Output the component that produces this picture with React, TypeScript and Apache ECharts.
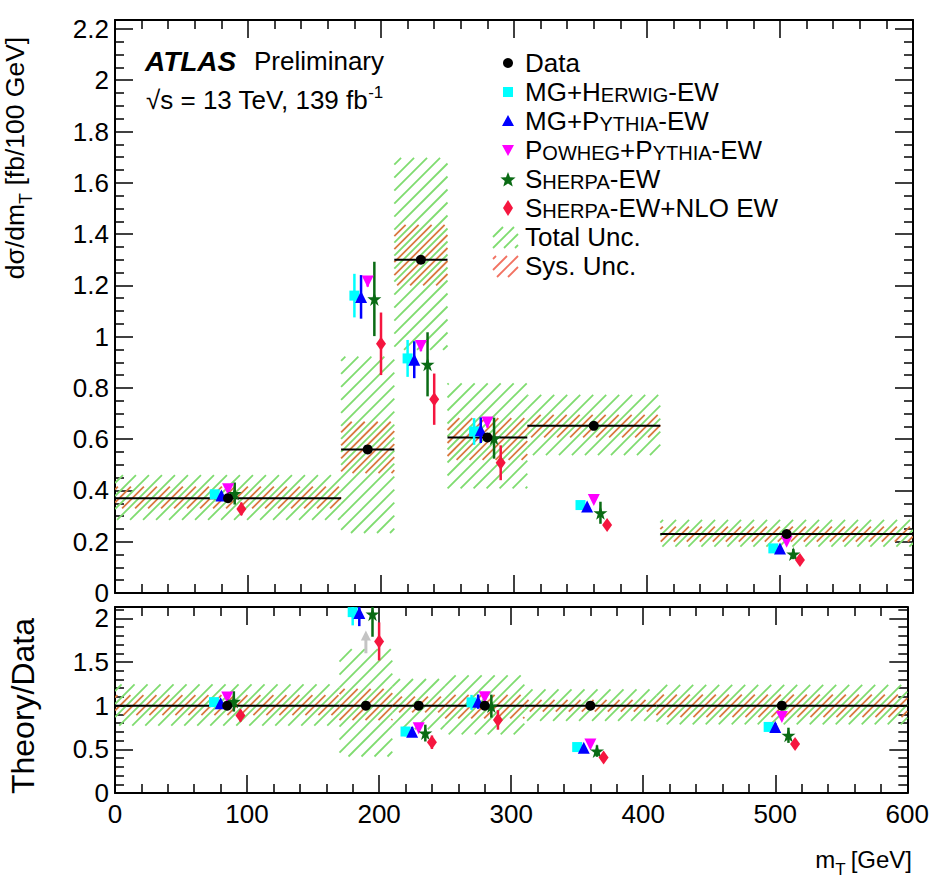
import React, { useEffect, useRef } from "react";
import * as echarts from "echarts";

// ---------------- Data ----------------
const binEdges = [0, 170, 210, 250, 310, 410, 600];
const binCenters = [85, 190, 230, 280, 360, 505];
const dataValues = [0.37, 0.56, 1.3, 0.607, 0.652, 0.23];
const totalUncLow = [0.285, 0.234, 0.948, 0.408, 0.538, 0.181];
const totalUncHigh = [0.46, 0.922, 1.697, 0.818, 0.773, 0.285];
const sysUncLow = [0.33, 0.468, 1.2, 0.519, 0.607, 0.2];
const sysUncHigh = [0.415, 0.668, 1.436, 0.682, 0.695, 0.259];

const mgHerwigValues = [0.385, 1.16, 0.915, 0.63, 0.343, 0.174];
const mgHerwigErrors = [0.015, 0.085, 0.072, 0.052, 0.012, 0.01];
const mgPythiaValues = [0.38, 1.155, 0.91, 0.635, 0.337, 0.174];
const mgPythiaErrors = [0.015, 0.085, 0.072, 0.05, 0.012, 0.01];
const powhegValues = [0.405, 1.215, 0.963, 0.665, 0.363, 0.2];
const powhegErrors = [0.012, 0.02, 0.02, 0.02, 0.01, 0.008];
const sherpaValues = [0.388, 1.147, 0.892, 0.604, 0.313, 0.152];
const sherpaErrors = [0.043, 0.145, 0.125, 0.08, 0.043, 0.02];
const sherpaNloValues = [0.328, 0.972, 0.756, 0.508, 0.265, 0.129];
const sherpaNloErrors = [0.025, 0.122, 0.1, 0.068, 0.015, 0.012];

const xTickValues = [0, 100, 200, 300, 400, 500, 600];
const yTickValuesTop = [0, 0.2, 0.4, 0.6, 0.8, 1, 1.2, 1.4, 1.6, 1.8, 2, 2.2];
const yTickValuesRatio = [0, 0.5, 1, 1.5, 2];

// ---------------- Styling / layout ----------------
const FONT = "'Liberation Sans', Arial, Helvetica, sans-serif";
const TOP_MAX = 2.235;
const RATIO_MAX = 2.13;
const GREEN = "#7fdc70";
const ORANGE = "#d9783e";
const LEG_RED = "#f27262";
const HATCH_SPACING = 13;
const STAR_PATH =
  "path://M50,0 L61.8,35.1 98.1,35.1 68.8,56.7 79.4,90.9 50,69.1 20.6,90.9 31.2,56.7 1.9,35.1 38.2,35.1 Z";

const models = [
  { name: "MG+Herwig-EW", values: mgHerwigValues, errors: mgHerwigErrors, shift: -10, color: "#00ffff", symbol: "rect", size: 10, rotate: 0 },
  { name: "MG+Pythia-EW", values: mgPythiaValues, errors: mgPythiaErrors, shift: -5, color: "#0000ff", symbol: "triangle", size: 12, rotate: 0 },
  { name: "Powheg+Pythia-EW", values: powhegValues, errors: powhegErrors, shift: 0, color: "#ff00ff", symbol: "triangle", size: 12, rotate: 180 },
  { name: "Sherpa-EW", values: sherpaValues, errors: sherpaErrors, shift: 5, color: "#0a6b14", symbol: STAR_PATH, size: 14, rotate: 0 },
  { name: "Sherpa-EW+NLO EW", values: sherpaNloValues, errors: sherpaNloErrors, shift: 10, color: "#f5163f", symbol: "diamond", size: [10, 14], rotate: 0 },
];

function stepValues(start: number, end: number, step: number, skip: number[]) {
  const out: number[] = [];
  for (let k = 0; start + k * step <= end + 1e-9; k++) {
    const v = +(start + k * step).toFixed(4);
    if (!skip.some((s) => Math.abs(s - v) < 1e-6)) out.push(v);
  }
  return out;
}
const xMinor = stepValues(0, 600, 20, xTickValues);
const yMinorTop = stepValues(0, 2.2, 0.05, yTickValuesTop);
const yMinorRatio = stepValues(0, 2.1, 0.1, yTickValuesRatio);

function hatchLines(xa: number, ya: number, xb: number, yb: number, spacing: number, phase: number) {
  const x0 = Math.min(xa, xb), x1 = Math.max(xa, xb);
  const y0 = Math.min(ya, yb), y1 = Math.max(ya, yb);
  const segs: number[][] = [];
  const cStart = Math.ceil((x0 + y0 - phase) / spacing) * spacing + phase;
  for (let c = cStart; c <= x1 + y1; c += spacing) {
    const sx = Math.max(x0, c - y1);
    const ex = Math.min(x1, c - y0);
    if (ex > sx + 0.5) segs.push([sx, c - sx, ex, c - ex]);
  }
  return segs;
}

function axis(dim: "x" | "y", gridIndex: number, position: string, min: number, max: number, values: number[], len: number, showLine: boolean, showLabels: boolean) {
  return {
    type: "value",
    gridIndex,
    position,
    min,
    max,
    axisLine: { show: showLine, onZero: false, lineStyle: { color: "#000", width: 2 } },
    axisTick: { show: true, inside: true, length: len, customValues: values, lineStyle: { color: "#000", width: 1.5 } },
    minorTick: { show: false },
    splitLine: { show: false },
    axisLabel: showLabels
      ? { show: true, customValues: values, fontSize: 26, fontFamily: FONT, color: "#000", margin: dim === "x" ? 8 : 6 }
      : { show: false },
  };
}

function xAxes(g: number, labels: boolean) {
  return [
    axis("x", g, "bottom", 0, 600, xTickValues, 18, true, labels),
    axis("x", g, "bottom", 0, 600, xMinor, 9, false, false),
    axis("x", g, "top", 0, 600, xTickValues, 18, true, false),
    axis("x", g, "top", 0, 600, xMinor, 9, false, false),
  ];
}
function yAxes(g: number, max: number, majors: number[], minors: number[]) {
  return [
    axis("y", g, "left", 0, max, majors, 18, true, true),
    axis("y", g, "left", 0, max, minors, 9, false, false),
    axis("y", g, "right", 0, max, majors, 18, true, false),
    axis("y", g, "right", 0, max, minors, 9, false, false),
  ];
}

function panelSeries(panel: number) {
  const idx = panel * 4;
  const ratio = panel === 1;
  const norm = (v: number, i: number) => (ratio ? v / dataValues[i] : v);
  const ymax = ratio ? RATIO_MAX : TOP_MAX;
  const series: any[] = [];

  const band = (low: number[], high: number[], color: string, phase: number) => ({
    type: "custom",
    coordinateSystem: "cartesian2d",
    xAxisIndex: idx,
    yAxisIndex: idx,
    silent: true,
    clip: true,
    encode: { x: [0, 1], y: [2, 3] },
    data: low.map((lo, i) => [binEdges[i], binEdges[i + 1], norm(lo, i), norm(high[i], i)]),
    renderItem: (params: any, api: any) => {
      const p0 = api.coord([api.value(0), api.value(3)]);
      const p1 = api.coord([api.value(1), api.value(2)]);
      const segs = hatchLines(p0[0], p0[1], p1[0], p1[1], HATCH_SPACING, phase);
      return {
        type: "group",
        children: segs.map((s) => ({
          type: "line",
          shape: { x1: s[0], y1: s[1], x2: s[2], y2: s[3] },
          style: { stroke: color, lineWidth: 1.8 },
        })),
      };
    },
  });
  series.push(band(totalUncLow, totalUncHigh, GREEN, 0));
  series.push(band(sysUncLow, sysUncHigh, ORANGE, HATCH_SPACING / 2));

  // Data line across each bin width
  series.push({
    type: "custom",
    coordinateSystem: "cartesian2d",
    xAxisIndex: idx,
    yAxisIndex: idx,
    silent: true,
    encode: { x: [0, 1], y: 2 },
    data: dataValues.map((v, i) => [binEdges[i], binEdges[i + 1], norm(v, i)]),
    renderItem: (params: any, api: any) => {
      const a = api.coord([api.value(0), api.value(2)]);
      const b = api.coord([api.value(1), api.value(2)]);
      return { type: "line", shape: { x1: a[0], y1: a[1], x2: b[0], y2: b[1] }, style: { stroke: "#000", lineWidth: 2 } };
    },
  });

  models.forEach((m) => {
    series.push({
      type: "custom",
      coordinateSystem: "cartesian2d",
      xAxisIndex: idx,
      yAxisIndex: idx,
      silent: true,
      clip: true,
      encode: { x: 0, y: [1, 2] },
      data: m.values.map((v, i) => [binCenters[i] + m.shift, norm(v - m.errors[i], i), norm(v + m.errors[i], i)]),
      renderItem: (params: any, api: any) => {
        const a = api.coord([api.value(0), api.value(1)]);
        const b = api.coord([api.value(0), api.value(2)]);
        return { type: "line", shape: { x1: a[0], y1: a[1], x2: b[0], y2: b[1] }, style: { stroke: m.color, lineWidth: 2.5 } };
      },
    });
    series.push({
      type: "scatter",
      xAxisIndex: idx,
      yAxisIndex: idx,
      silent: true,
      clip: true,
      symbol: m.symbol,
      symbolSize: m.size,
      symbolRotate: m.rotate,
      itemStyle: { color: m.color, opacity: 1 },
      data: m.values.map((v, i) => [binCenters[i] + m.shift, norm(v, i)]),
    });
    if (ratio) {
      // out-of-range indicators
      const over = m.values
        .map((v, i) => [binCenters[i] + m.shift, norm(v, i)])
        .filter((p) => p[1] > ymax)
        .map((p) => [p[0], 1.6, 1.86]);
      if (over.length) {
        series.push({
          type: "custom",
          coordinateSystem: "cartesian2d",
          xAxisIndex: idx,
          yAxisIndex: idx,
          silent: true,
          encode: { x: 0, y: [1, 2] },
          data: over,
          renderItem: (params: any, api: any) => {
            const a = api.coord([api.value(0), api.value(1)]);
            const b = api.coord([api.value(0), api.value(2)]);
            return {
              type: "group",
              children: [
                { type: "line", shape: { x1: a[0], y1: a[1], x2: b[0], y2: b[1] + 8 }, style: { stroke: "#c4c4c4", lineWidth: 3 } },
                { type: "polygon", shape: { points: [[b[0] - 5, b[1] + 10], [b[0] + 5, b[1] + 10], [b[0], b[1]]] }, style: { fill: "#c4c4c4" } },
              ],
            };
          },
        });
      }
    }
  });

  series.push({
    type: "scatter",
    xAxisIndex: idx,
    yAxisIndex: idx,
    silent: true,
    symbol: "circle",
    symbolSize: 10,
    itemStyle: { color: "#000", opacity: 1 },
    data: dataValues.map((v, i) => [binCenters[i], norm(v, i)]),
  });
  return series;
}

function starPoints(cx: number, cy: number, R: number, r: number) {
  const pts: number[][] = [];
  for (let k = 0; k < 10; k++) {
    const ang = -Math.PI / 2 + (k * Math.PI) / 5;
    const rad = k % 2 === 0 ? R : r;
    pts.push([cx + rad * Math.cos(ang), cy + rad * Math.sin(ang)]);
  }
  return pts;
}

function buildGraphics() {
  const g: any[] = [];
  const txt = (x: number, y: number, text: string, extra: any = {}, rot = 0) => ({
    type: "text",
    x,
    y,
    rotation: rot,
    silent: true,
    style: {
      text,
      fill: "#000",
      fontSize: 26,
      fontFamily: FONT,
      align: "left",
      textAlign: "left",
      verticalAlign: "middle",
      textVerticalAlign: "middle",
      ...extra,
    },
  });
  const rich = (n = 26, s = 20) => ({
    n: { fontSize: n, fontFamily: FONT, fill: "#000", color: "#000", verticalAlign: "bottom", lineHeight: n },
    s: { fontSize: s, fontFamily: FONT, fill: "#000", color: "#000", verticalAlign: "bottom", lineHeight: s },
  });

  // ATLAS label
  g.push(txt(145, 61, "ATLAS", { fontWeight: "bold", fontStyle: "italic", fontSize: 28 }));
  g.push(txt(254, 61, "Preliminary"));
  g.push(
    txt(146, 100, "{n|\u221As = 13 TeV, 139 fb}{u|-1}", {
      rich: {
        n: { fontSize: 26, fontFamily: FONT, fill: "#000", color: "#000", verticalAlign: "bottom", lineHeight: 26 },
        u: { fontSize: 17, fontFamily: FONT, fill: "#000", color: "#000", verticalAlign: "bottom", lineHeight: 17, padding: [0, 0, 12, 0] },
      },
    })
  );

  // Legend
  const LX = 508;
  const TX = 525;
  const y0 = 63;
  const dy = 29;
  const labels = [
    "Data",
    "{n|MG+H}{s|ERWIG}{n|-EW}",
    "{n|MG+P}{s|YTHIA}{n|-EW}",
    "{n|P}{s|OWHEG}{n|+P}{s|YTHIA}{n|-EW}",
    "{n|S}{s|HERPA}{n|-EW}",
    "{n|S}{s|HERPA}{n|-EW+NLO EW}",
    "Total Unc.",
    "Sys. Unc.",
  ];
  labels.forEach((t, i) => {
    g.push(txt(TX, y0 + i * dy, t, { rich: rich() }));
  });
  const ly = (i: number) => y0 + i * dy;
  g.push({ type: "circle", silent: true, shape: { cx: LX, cy: ly(0), r: 5 }, style: { fill: "#000" } });
  g.push({ type: "rect", silent: true, shape: { x: LX - 5, y: ly(1) - 5, width: 10, height: 10 }, style: { fill: models[0].color } });
  g.push({ type: "polygon", silent: true, shape: { points: [[LX - 6, ly(2) + 5], [LX + 6, ly(2) + 5], [LX, ly(2) - 6]] }, style: { fill: models[1].color } });
  g.push({ type: "polygon", silent: true, shape: { points: [[LX - 6, ly(3) - 5], [LX + 6, ly(3) - 5], [LX, ly(3) + 6]] }, style: { fill: models[2].color } });
  g.push({ type: "polygon", silent: true, shape: { points: starPoints(LX, ly(4) + 1, 8, 3.4) }, style: { fill: models[3].color } });
  g.push({ type: "polygon", silent: true, shape: { points: [[LX, ly(5) - 8], [LX + 5, ly(5)], [LX, ly(5) + 8], [LX - 5, ly(5)]] }, style: { fill: models[4].color } });
  const legendHatch = (i: number, color: string) => {
    hatchLines(493, ly(i) - 10, 518, ly(i) + 11, 11, 4).forEach((s) =>
      g.push({ type: "line", silent: true, shape: { x1: s[0], y1: s[1], x2: s[2], y2: s[3] }, style: { stroke: color, lineWidth: 1.8 } })
    );
  };
  legendHatch(6, GREEN);
  legendHatch(7, LEG_RED);

  // Axis titles
  const subRich = (n: number, t: number) => ({
    n: { fontSize: n, fontFamily: FONT, fill: "#000", color: "#000", verticalAlign: "bottom", lineHeight: n, padding: [0, 0, 7, 0] },
    t: { fontSize: t, fontFamily: FONT, fill: "#000", color: "#000", verticalAlign: "bottom", lineHeight: t },
    g: { fontSize: n, fontFamily: FONT, fill: "#000", color: "#000", verticalAlign: "bottom", lineHeight: n, padding: [0, 0, 7, 5] },
  });
  g.push(txt(22, 158, "{n|d\u03C3/dm}{t|T}{n| [fb/100 GeV]}", { rich: subRich(26.5, 18), align: "center", textAlign: "center" }, Math.PI / 2));
  g.push(txt(23, 706, "Theory/Data", { fontSize: 32, align: "center", textAlign: "center" }, Math.PI / 2));
  g.push(txt(912, 866, "{n|m}{t|T}{g|[GeV]}", { rich: subRich(24, 17), align: "right", textAlign: "right" }));
  return g;
}

export default function App() {
  const ref = useRef<HTMLDivElement>(null);
  useEffect(() => {
    if (!ref.current) return;
    const chart = echarts.init(ref.current, undefined, { renderer: "svg" });
    chart.setOption({
      animation: false,
      backgroundColor: "#fff",
      grid: [
        { left: 115, top: 20, width: 798, height: 573 },
        { left: 115, top: 607, width: 798, height: 186 },
      ],
      xAxis: [...xAxes(0, false), ...xAxes(1, true)],
      yAxis: [...yAxes(0, TOP_MAX, yTickValuesTop, yMinorTop), ...yAxes(1, RATIO_MAX, yTickValuesRatio, yMinorRatio)],
      series: [...panelSeries(0), ...panelSeries(1)],
      graphic: buildGraphics(),
    });
    return () => chart.dispose();
  }, []);
  return <div ref={ref} style={{ position: "absolute", left: 0, top: 0, width: 932, height: 884 }} />;
}
